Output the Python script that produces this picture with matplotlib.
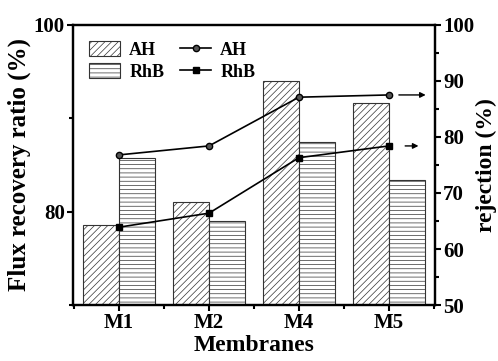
import numpy as np
import matplotlib
matplotlib.use("Agg")
import matplotlib.pyplot as plt

# membranes on the x axis
membranes = ["M1", "M2", "M4", "M5"]

# flux recovery ratio (%) - bars, left axis
frr_ah = [78.6, 81.0, 94.0, 91.6]
frr_rhb = [85.8, 79.0, 87.5, 83.4]

# rejection (%) - lines, right axis
rej_ah = [76.8, 78.4, 87.1, 87.5]
rej_rhb = [63.9, 66.4, 76.3, 78.4]

plt.rcParams["font.family"] = ["Liberation Serif", "DejaVu Serif"]
plt.rcParams["font.weight"] = "bold"
plt.rcParams["hatch.linewidth"] = 0.5

fig = plt.figure(figsize=(4.98, 3.61), dpi=100)
ax = fig.add_axes([0.147, 0.155, 0.726, 0.776])
x = np.arange(len(membranes))
w = 0.4

b1 = ax.bar(x - w / 2, frr_ah, w, bottom=0, color="white", edgecolor="#333333",
            hatch="/////", linewidth=0.8, label="AH")
b2 = ax.bar(x + w / 2, frr_rhb, w, bottom=0, color="white", edgecolor="#333333",
            hatch="----", linewidth=0.8, label="RhB")
ax.set_ylim(70, 100)
ax.set_xlim(-0.51, 3.51)
ax.set_yticks([80, 100])
ax.set_yticks([70, 90], minor=True)
ax.set_xticks(x)
ax.set_xticklabels(membranes)
ax.set_xticks([-0.5, 0.5, 1.5, 2.5, 3.5], minor=True)
ax.set_xlabel("Membranes", fontsize=17, fontweight="bold", labelpad=1)
ax.set_ylabel("Flux recovery ratio (%)", fontsize=18, fontweight="bold", labelpad=2)

ax2 = ax.twinx()
l1, = ax2.plot(x, rej_ah, color="black", marker="o", markersize=4.5,
               markerfacecolor="#555555", markeredgecolor="black", linewidth=1.2, label="AH")
l2, = ax2.plot(x, rej_rhb, color="black", marker="s", markersize=4.5,
               linewidth=1.2, label="RhB")
ax2.set_ylim(50, 100)
ax2.set_yticks([50, 60, 70, 80, 90, 100])
ax2.set_yticks([55, 65, 75, 85, 95], minor=True)
ax2.set_ylabel("rejection (%)", fontsize=17, fontweight="bold", labelpad=1)

# arrows pointing to the rejection axis
ax2.annotate("", xy=(3.44, rej_ah[-1]), xytext=(3.08, rej_ah[-1]),
             arrowprops=dict(arrowstyle="-|>", color="black", lw=1, mutation_scale=8))
ax2.annotate("", xy=(3.36, rej_rhb[-1]), xytext=(3.15, rej_rhb[-1]),
             arrowprops=dict(arrowstyle="-|>", color="black", lw=1, mutation_scale=8))

for a in (ax, ax2):
    for s in a.spines.values():
        s.set_linewidth(1.6)
    a.tick_params(which="major", length=4, width=1.5, labelsize=15, pad=2)
    a.tick_params(which="minor", length=3, width=1.5)
    for t in a.get_xticklabels() + a.get_yticklabels():
        t.set_fontweight("bold")

ax.legend([b1, b2, l1, l2], ["AH", "RhB", "AH", "RhB"], ncol=2, loc="upper left",
          frameon=False, handlelength=1.7, handleheight=0.9, handletextpad=0.5,
          columnspacing=0.9, labelspacing=0.25, borderaxespad=0.5,
          prop={"weight": "bold", "size": 13})

fig.savefig("out.png", dpi=100)
